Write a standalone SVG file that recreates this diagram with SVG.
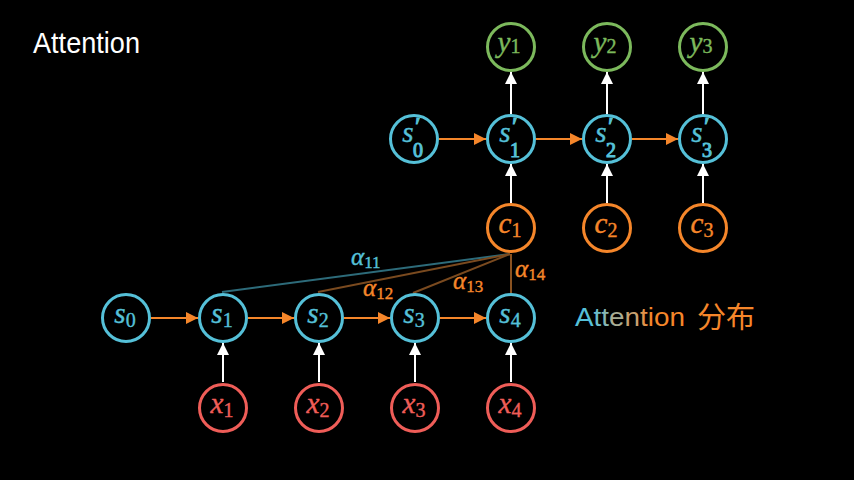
<svg xmlns="http://www.w3.org/2000/svg" width="854" height="480" viewBox="0 0 854 480">
<defs>
<style>
.bg{fill:#000}
.n{fill:none;stroke-width:3}
.cy{stroke:#55c0d8}
.or{stroke:#f5862a}
.gr{stroke:#7cb95c}
.rd{stroke:#ef5d58}
.m{font-family:"Liberation Serif",serif;font-style:italic;font-size:29px;stroke-width:0.4}
.sub{font-family:"Liberation Serif",serif;font-style:normal;font-size:20px}
.pr{font-family:"Liberation Serif",serif;font-style:normal;font-size:26px}
.tc{fill:#55c0d8;stroke:#55c0d8}.to{fill:#f5862a;stroke:#f5862a}.tg{fill:#7cb95c;stroke:#7cb95c}.tr{fill:#ef5d58;stroke:#ef5d58}
.ao{stroke:#f5862a;stroke-width:2;fill:none}
.aw{stroke:#ffffff;stroke-width:2;fill:none}
.al{font-family:"Liberation Serif",serif;font-style:italic;font-size:25px;stroke-width:0.4}
.als{font-family:"Liberation Serif",serif;font-style:normal;font-size:17px}
</style>
<marker id="mo" viewBox="0 0 10 10" refX="10" refY="5" markerWidth="6" markerHeight="6" markerUnits="strokeWidth" orient="auto"><path d="M0,0 L10,5 L0,10 z" fill="#f5862a"/></marker>
<marker id="mw" viewBox="0 0 10 10" refX="10" refY="5" markerWidth="6" markerHeight="6" markerUnits="strokeWidth" orient="auto"><path d="M0,0 L10,5 L0,10 z" fill="#ffffff"/></marker>
</defs>
<rect class="bg" x="0" y="0" width="854" height="480"/>
<text x="33" y="53" font-family="Liberation Sans, sans-serif" font-size="29" fill="#ffffff" textLength="107" lengthAdjust="spacingAndGlyphs">Attention</text>

<g id="connectors">
<line x1="510" y1="254" x2="222" y2="292" stroke="#2d6b7a" stroke-width="2"/>
<line x1="510" y1="254" x2="318" y2="292" stroke="#7a4a1f" stroke-width="2"/>
<line x1="510" y1="254" x2="413" y2="293" stroke="#7a4a1f" stroke-width="2"/>
<line x1="511" y1="254" x2="511" y2="293" stroke="#8a5220" stroke-width="2"/>
<line class="ao" x1="151" y1="318" x2="198" y2="318" marker-end="url(#mo)"/>
<line class="ao" x1="248" y1="318" x2="294" y2="318" marker-end="url(#mo)"/>
<line class="ao" x1="344" y1="318" x2="390" y2="318" marker-end="url(#mo)"/>
<line class="ao" x1="440" y1="318" x2="486" y2="318" marker-end="url(#mo)"/>
<line class="aw" x1="223" y1="382" x2="223" y2="343" marker-end="url(#mw)"/>
<line class="aw" x1="319" y1="382" x2="319" y2="343" marker-end="url(#mw)"/>
<line class="aw" x1="415" y1="382" x2="415" y2="343" marker-end="url(#mw)"/>
<line class="aw" x1="511" y1="382" x2="511" y2="343" marker-end="url(#mw)"/>
<line class="ao" x1="439" y1="139" x2="486" y2="139" marker-end="url(#mo)"/>
<line class="ao" x1="536" y1="139" x2="582" y2="139" marker-end="url(#mo)"/>
<line class="ao" x1="632" y1="139" x2="678" y2="139" marker-end="url(#mo)"/>
<line class="aw" x1="511" y1="203" x2="511" y2="164" marker-end="url(#mw)"/>
<line class="aw" x1="607" y1="203" x2="607" y2="164" marker-end="url(#mw)"/>
<line class="aw" x1="703" y1="203" x2="703" y2="164" marker-end="url(#mw)"/>
<line class="aw" x1="511" y1="114" x2="511" y2="72" marker-end="url(#mw)"/>
<line class="aw" x1="607" y1="114" x2="607" y2="72" marker-end="url(#mw)"/>
<line class="aw" x1="703" y1="114" x2="703" y2="72" marker-end="url(#mw)"/>
<text class="al tc" x="351" y="265">α<tspan class="als" dy="3">11</tspan></text>
<text class="al to" x="363" y="296">α<tspan class="als" dy="3">12</tspan></text>
<text class="al to" x="453" y="289">α<tspan class="als" dy="3">13</tspan></text>
<text class="al to" x="515" y="277">α<tspan class="als" dy="3">14</tspan></text>
</g>

<g id="s0"><circle class="n cy" cx="126" cy="318" r="23.5"/><text class="m tc" x="125" y="323" text-anchor="middle">s<tspan class="sub" dy="4">0</tspan></text></g>
<g id="s1"><circle class="n cy" cx="223" cy="318" r="23.5"/><text class="m tc" x="222" y="323" text-anchor="middle">s<tspan class="sub" dy="4">1</tspan></text></g>
<g id="s2"><circle class="n cy" cx="319" cy="318" r="23.5"/><text class="m tc" x="318" y="323" text-anchor="middle">s<tspan class="sub" dy="4">2</tspan></text></g>
<g id="s3"><circle class="n cy" cx="415" cy="318" r="23.5"/><text class="m tc" x="414" y="323" text-anchor="middle">s<tspan class="sub" dy="4">3</tspan></text></g>
<g id="s4"><circle class="n cy" cx="511" cy="318" r="23.5"/><text class="m tc" x="510" y="323" text-anchor="middle">s<tspan class="sub" dy="4">4</tspan></text></g>

<g id="x1"><circle class="n rd" cx="223" cy="408" r="23.5"/><text class="m tr" x="222" y="413" text-anchor="middle">x<tspan class="sub" dy="4">1</tspan></text></g>
<g id="x2"><circle class="n rd" cx="319" cy="408" r="23.5"/><text class="m tr" x="318" y="413" text-anchor="middle">x<tspan class="sub" dy="4">2</tspan></text></g>
<g id="x3"><circle class="n rd" cx="415" cy="408" r="23.5"/><text class="m tr" x="414" y="413" text-anchor="middle">x<tspan class="sub" dy="4">3</tspan></text></g>
<g id="x4"><circle class="n rd" cx="511" cy="408" r="23.5"/><text class="m tr" x="510" y="413" text-anchor="middle">x<tspan class="sub" dy="4">4</tspan></text></g>

<g id="c1"><circle class="n or" cx="511" cy="228" r="23.5"/><text class="m to" x="510" y="233" text-anchor="middle">c<tspan class="sub" dy="4">1</tspan></text></g>
<g id="c2"><circle class="n or" cx="607" cy="228" r="23.5"/><text class="m to" x="606" y="233" text-anchor="middle">c<tspan class="sub" dy="4">2</tspan></text></g>
<g id="c3"><circle class="n or" cx="703" cy="228" r="23.5"/><text class="m to" x="702" y="233" text-anchor="middle">c<tspan class="sub" dy="4">3</tspan></text></g>

<g id="sp0"><circle class="n cy" cx="414" cy="139" r="23.5"/><text class="m tc" x="408" y="142" text-anchor="middle">s</text><text class="pr tc" x="415" y="135">′</text><text class="sub tc" x="413" y="157">0</text></g>
<g id="sp1"><circle class="n cy" cx="511" cy="139" r="23.5"/><text class="m tc" x="505" y="142" text-anchor="middle">s</text><text class="pr tc" x="512" y="135">′</text><text class="sub tc" x="510" y="157">1</text></g>
<g id="sp2"><circle class="n cy" cx="607" cy="139" r="23.5"/><text class="m tc" x="601" y="142" text-anchor="middle">s</text><text class="pr tc" x="608" y="135">′</text><text class="sub tc" x="606" y="157">2</text></g>
<g id="sp3"><circle class="n cy" cx="703" cy="139" r="23.5"/><text class="m tc" x="697" y="142" text-anchor="middle">s</text><text class="pr tc" x="704" y="135">′</text><text class="sub tc" x="702" y="157">3</text></g>

<g id="y1"><circle class="n gr" cx="511" cy="47" r="23.5"/><text class="m tg" x="509" y="52" text-anchor="middle">y<tspan class="sub" dy="1">1</tspan></text></g>
<g id="y2"><circle class="n gr" cx="607" cy="47" r="23.5"/><text class="m tg" x="605" y="52" text-anchor="middle">y<tspan class="sub" dy="1">2</tspan></text></g>
<g id="y3"><circle class="n gr" cx="703" cy="47" r="23.5"/><text class="m tg" x="701" y="52" text-anchor="middle">y<tspan class="sub" dy="1">3</tspan></text></g>

<g id="legend">
<text x="575" y="326" font-family="Liberation Sans, sans-serif" font-size="25" textLength="110" lengthAdjust="spacingAndGlyphs"><tspan fill="#55c0d8">A</tspan><tspan fill="#6cbcc8">t</tspan><tspan fill="#86b6b4">t</tspan><tspan fill="#a8ac94">e</tspan><tspan fill="#c6a070">n</tspan><tspan fill="#e0924a">t</tspan><tspan fill="#f5862a">ion</tspan></text>
<text x="697" y="328" font-family="Noto Sans CJK SC, sans-serif" font-size="29" fill="#f5862a">分布</text>
</g>
</svg>
